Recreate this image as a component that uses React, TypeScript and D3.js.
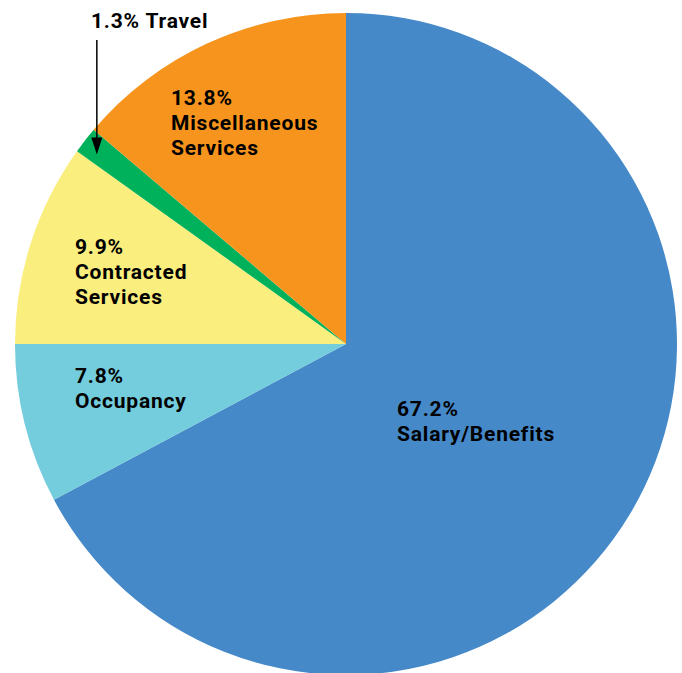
import React from 'react';
import * as d3 from 'd3';

// Budget shares, read clockwise from 12 o'clock
const categories = ['Salary/Benefits', 'Occupancy', 'Contracted Services', 'Travel', 'Miscellaneous Services'];
const shares = [67.2, 7.8, 9.9, 1.3, 13.8];
const colors = ['#4589C8', '#74CDDC', '#FAEE7E', '#00B15B', '#F7941E'];

// label lines per slice (Travel is called out with an arrow)
const labelLines = [
  ['67.2%', 'Salary/Benefits'],
  ['7.8%', 'Occupancy'],
  ['9.9%', 'Contracted', 'Services'],
  ['1.3% Travel'],
  ['13.8%', 'Miscellaneous', 'Services'],
];

const width = 682;
const height = 673;
const cx = 346;
const cy = 344;
const radius = 331;
const lineH = 24.8;

// first-baseline offsets from the pie center
const labelPos: [number, number][] = [
  [51, 72],
  [-271, 39],
  [-271, -90],
  [-255, -316],
  [-175, -239],
];

const App: React.FC = () => {
  const pie = d3.pie<number>().sort(null).value(d => d);
  const arcs = pie(shares);
  const arc = d3.arc<d3.PieArcDatum<number>>().innerRadius(0).outerRadius(radius);

  // arrow towards the Travel slice
  const travel = arcs[3];
  const mid = (travel.startAngle + travel.endAngle) / 2;
  const tipR = radius * 0.955;
  const tipX = cx + Math.sin(mid) * tipR;
  const tipY = cy - Math.cos(mid) * tipR + 5;

  return (
    <svg
      width={width}
      height={height}
      style={{ position: 'absolute', left: 0, top: 0, background: '#fff' }}
      fontFamily="Roboto, sans-serif"
      fontWeight={700}
      fontSize={21}
      letterSpacing={0.8}
    >
      <g transform={`translate(${cx},${cy})`}>
        {arcs.map((a, i) => (
          <path key={categories[i]} d={arc(a) ?? ''} fill={colors[i]} />
        ))}
        {labelLines.map((lines, i) => (
          <text key={i} x={labelPos[i][0]} y={labelPos[i][1]} fill="#000">
            {lines.map((l, j) => (
              <tspan key={j} x={labelPos[i][0]} dy={j === 0 ? 0 : lineH}>{l}</tspan>
            ))}
          </text>
        ))}
      </g>
      <line x1={tipX} y1={40} x2={tipX} y2={tipY - 14} stroke="#000" strokeWidth={1.5} />
      <path d={`M${tipX - 5.5},${tipY - 17} L${tipX + 5.5},${tipY - 17} L${tipX},${tipY} Z`} fill="#000" />
    </svg>
  );
};

export default App;
